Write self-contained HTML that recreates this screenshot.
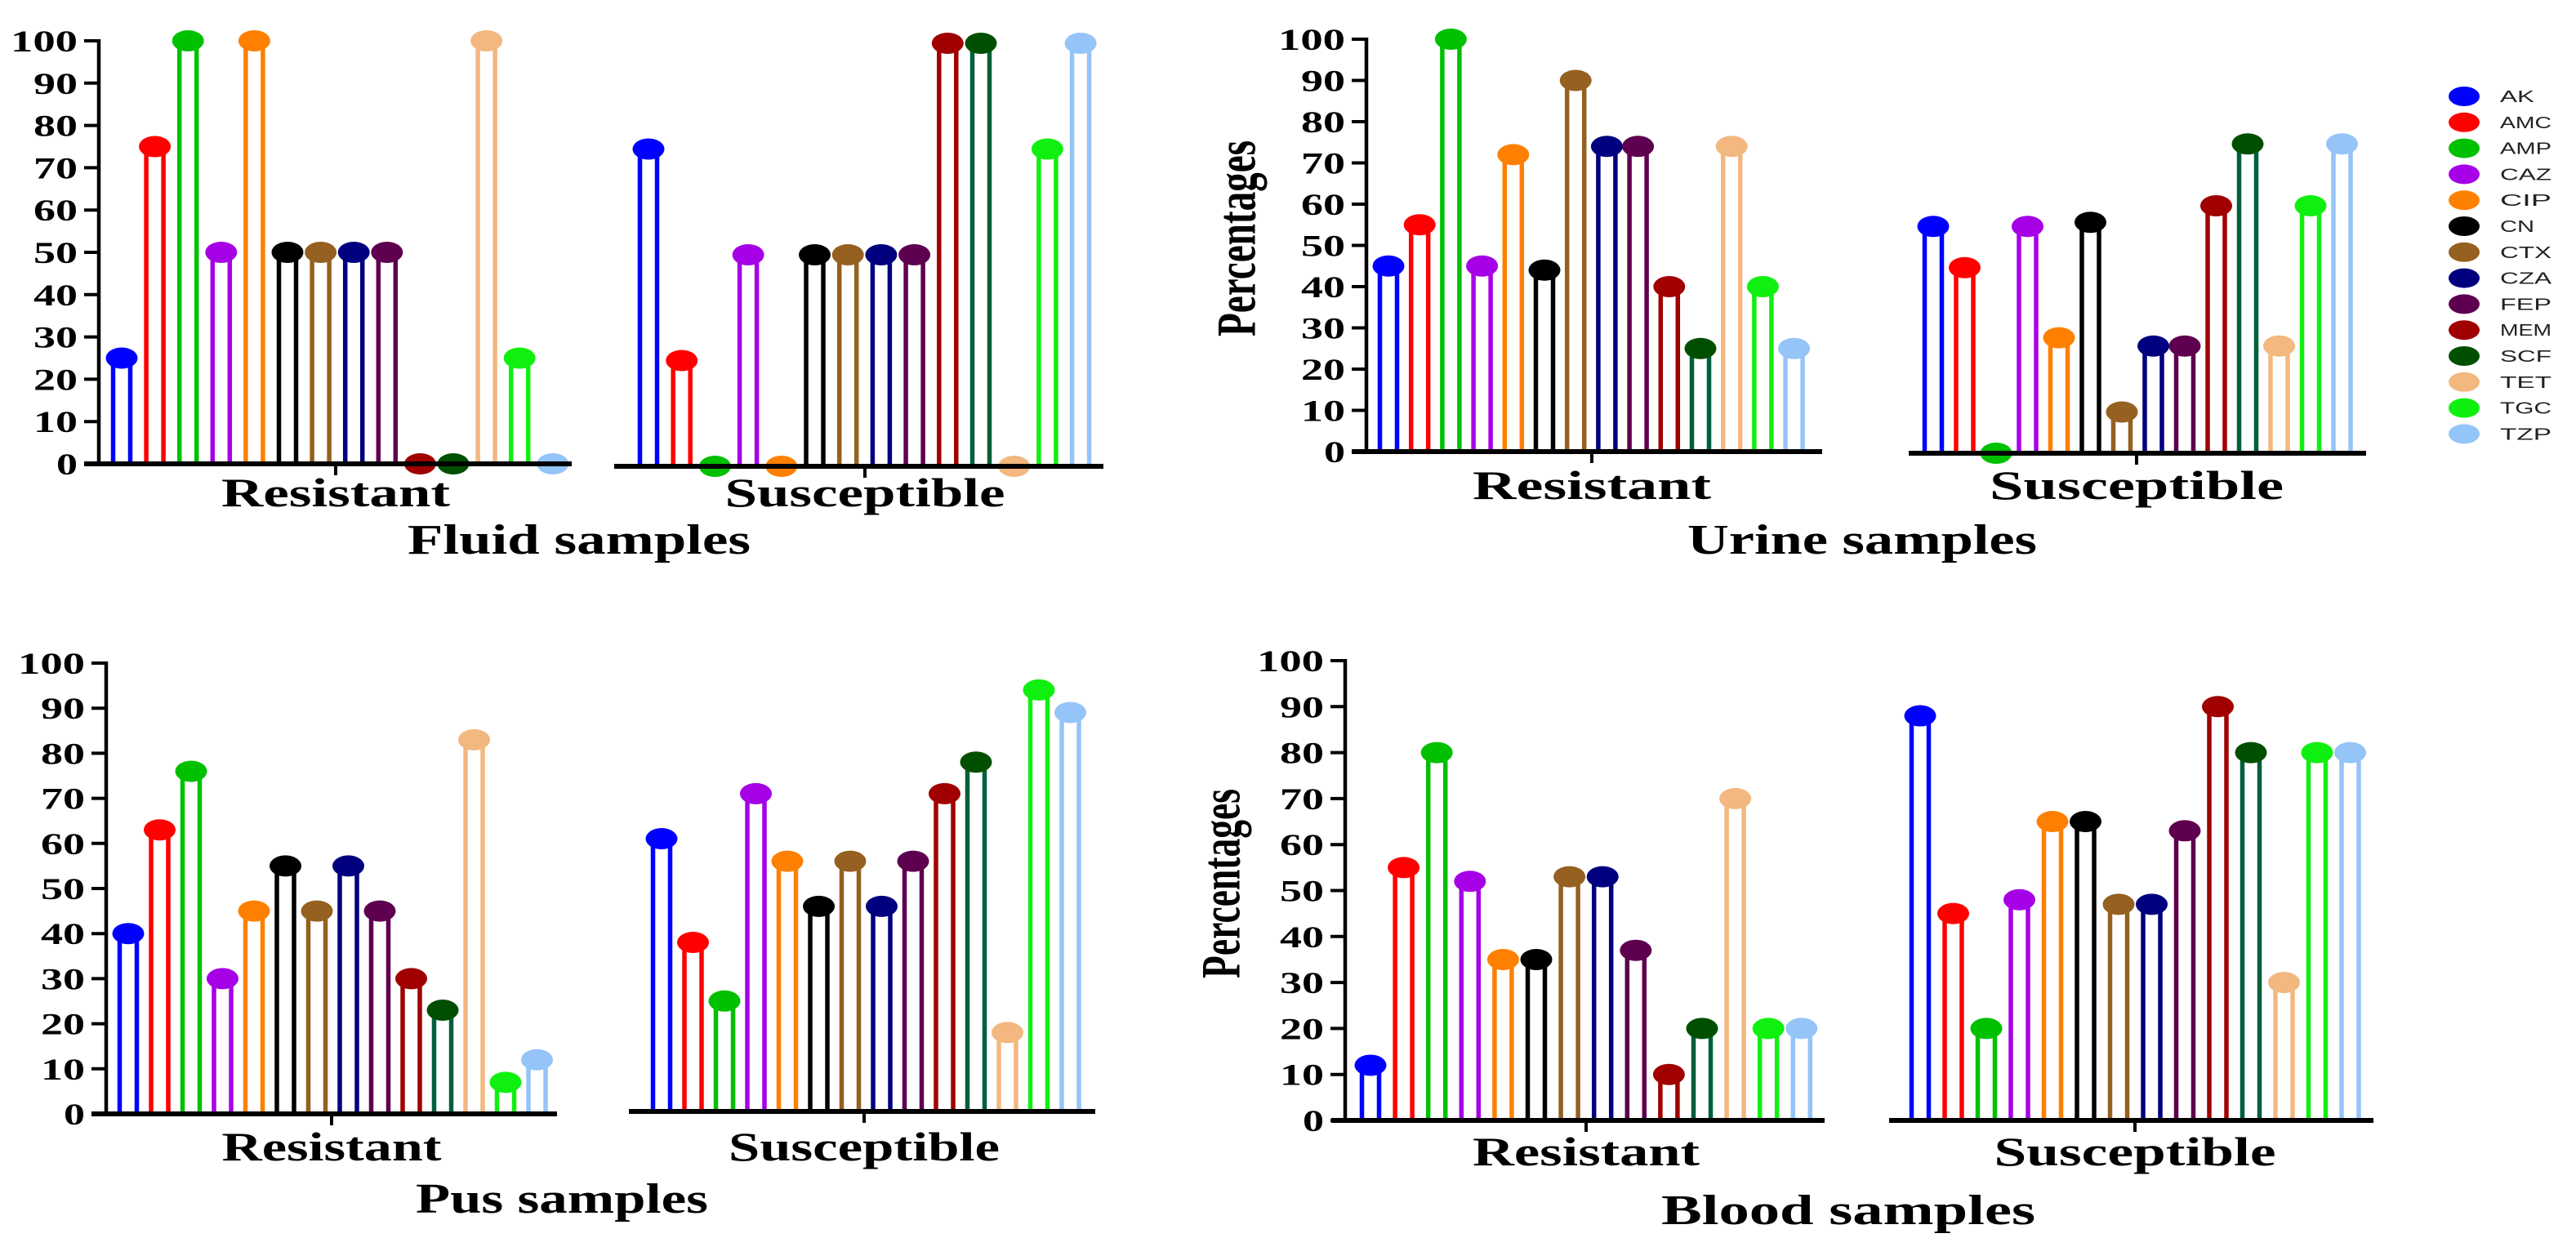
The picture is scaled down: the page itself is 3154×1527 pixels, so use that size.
<!DOCTYPE html>
<html><head><meta charset="utf-8">
<style>
html,body{margin:0;padding:0;background:#fff;}
svg{display:block;}
text{font-family:"Liberation Serif",serif;font-weight:bold;fill:#000;}
.leg{font-family:"Liberation Sans",sans-serif;font-weight:normal;fill:#222;}
</style></head>
<body>
<svg id="chart" width="3154" height="1527" viewBox="0 0 3154 1527" xmlns="http://www.w3.org/2000/svg"></svg>
<script>
const drugs = ["AK","AMC","AMP","CAZ","CIP","CN","CTX","CZA","FEP","MEM","SCF","TET","TGC","TZP"];
const colors = ["#0000ff","#ff0000","#00c000","#a600e6","#ff8000","#000000","#956020","#00007f","#5e004f","#a00000","#00603a","#f2b880","#10f010","#94c4f8"];
const dotColors = ["#0000ff","#ff0000","#00c000","#a600e6","#ff8000","#000000","#956020","#00007f","#5e004f","#a00000","#004f00","#f2b880","#10f010","#94c4f8"];
const yTicks = [0,10,20,30,40,50,60,70,80,90,100];
const groups = ["Resistant","Susceptible"];

const fluidResistant = [25,75,100,50,100,50,50,50,50,0,0,100,25,0];
const fluidSusceptible = [75,25,0,50,0,50,50,50,50,100,100,0,75,100];
const urineResistant = [45,55,100,45,72,44,90,74,74,40,25,74,40,25];
const urineSusceptible = [55,45,0,55,28,56,10,26,26,60,75,26,60,75];
const pusResistant = [40,63,76,30,45,55,45,55,45,30,23,83,7,12];
const pusSusceptible = [60.5,37.5,24.5,70.5,55.5,45.5,55.5,45.5,55.5,70.5,77.5,17.5,93.5,88.5];
const bloodResistant = [12,55,80,52,35,35,53,53,37,10,20,70,20,20];
const bloodSusceptible = [88,45,20,48,65,65,47,47,63,90,80,30,80,80];

const NS = "http://www.w3.org/2000/svg";
const svg = document.getElementById("chart");
function mk(tag, attrs, parent){
  const e = document.createElementNS(NS, tag);
  for (const k in attrs) e.setAttribute(k, attrs[k]);
  (parent||svg).appendChild(e);
  return e;
}

const panels = [
  {key:"fluid", title:"Fluid samples", R:fluidResistant, S:fluidSusceptible,
   ax:121, y0:568, y100:50, L:[103,700], tL:411, Rr:[752,1351], tR:1059, yOffR:3,
   bxL:149, dxL:40.6, bxR:794, dxR:40.7, labY:620, labW:[280,343], titleX:709, titleY:678, titleW:420, perc:null},
  {key:"urine", title:"Urine samples", R:urineResistant, S:urineSusceptible,
   ax:1673, y0:553, y100:48, L:[1655,2231], tL:1949, Rr:[2337,2897], tR:2616, yOffR:2,
   bxL:1700, dxL:38.2, bxR:2367, dxR:38.5, labY:611, labW:[292,360], titleX:2280, titleY:678, titleW:428, perc:[1515,292,240]},
  {key:"pus", title:"Pus samples", R:pusResistant, S:pusSusceptible,
   ax:130, y0:1364, y100:812, L:[112,682], tL:406, Rr:[770,1341], tR:1058, yOffR:-3,
   bxL:157, dxL:38.5, bxR:810, dxR:38.5, labY:1421, labW:[269,332], titleX:688, titleY:1485, titleW:358, perc:null},
  {key:"blood", title:"Blood samples", R:bloodResistant, S:bloodSusceptible,
   ax:1647, y0:1372, y100:809, L:[1630,2234], tL:1942, Rr:[2313,2906], tR:2614, yOffR:0,
   bxL:1678, dxL:40.6, bxR:2351, dxR:40.5, labY:1427, labW:[278,345], titleX:2263, titleY:1499, titleW:458, perc:[1496,1082,232]}
];

panels.forEach(p => {
  const g = mk("g", {});
  
  
  const yScale = (v, off) => p.y0 + off - (v/100)*(p.y0 - p.y100);

  [[p.R, p.bxL, p.dxL, 0, "resistant"], [p.S, p.bxR, p.dxR, p.yOffR, "susceptible"]].forEach(([vals, bx, dx, off, gname]) => {
    vals.forEach((v, i) => {
      const x = bx + i*dx;
      const y = yScale(v, off);
      const base = p.y0 + off;
      const bg = mk("g", {}, g);
      
      
      if (v > 0) {
        mk("line", {x1:x-10.5, x2:x-10.5, y1:base, y2:y, stroke:colors[i], "stroke-width":5.5}, bg);
        mk("line", {x1:x+10.5, x2:x+10.5, y1:base, y2:y, stroke:colors[i], "stroke-width":5.5}, bg);
      }
      mk("ellipse", {cx:x, cy:y, rx:19.5, ry:13, fill:dotColors[i]}, bg);
    });
  });

  const yAxis = mk("line", {x1:p.ax, x2:p.ax, y1:p.y100-2, y2:p.y0+2, stroke:"#000","stroke-width":4.5}, g);
  
  
  yTicks.forEach(t => {
    const y = yScale(t, 0);
    mk("line", {x1:p.ax-18, x2:p.ax, y1:y, y2:y, stroke:"#000","stroke-width":4}, g);
    const s = String(t);
    const tl = mk("text", {x:p.ax-26, y:y+13, "text-anchor":"end", "font-size":37,
      textLength: s.length===3?82:(s.length===2?54:26), lengthAdjust:"spacingAndGlyphs"}, g);
    tl.textContent = s;
    
    
  });
  const xl = mk("line", {x1:p.L[0], x2:p.L[1], y1:p.y0, y2:p.y0, stroke:"#000","stroke-width":6}, g);
  
  
  mk("line", {x1:p.tL, x2:p.tL, y1:p.y0, y2:p.y0+14, stroke:"#000","stroke-width":4}, g);
  const xr = mk("line", {x1:p.Rr[0], x2:p.Rr[1], y1:p.y0+p.yOffR, y2:p.y0+p.yOffR, stroke:"#000","stroke-width":6}, g);
  
  
  mk("line", {x1:p.tR, x2:p.tR, y1:p.y0+p.yOffR, y2:p.y0+p.yOffR+14, stroke:"#000","stroke-width":4}, g);

  [[p.tL, 0],[p.tR, 1]].forEach(([cx, k]) => {
    const t = mk("text", {x:cx, y:p.labY, "text-anchor":"middle", "font-size":50, textLength:p.labW[k], lengthAdjust:"spacingAndGlyphs"}, g);
    t.textContent = groups[k];
    
    
  });
  const tt = mk("text", {x:p.titleX, y:p.titleY, "text-anchor":"middle", "font-size":52, textLength:p.titleW, lengthAdjust:"spacingAndGlyphs"}, g);
  tt.textContent = p.title;
  
  

  if (p.perc) {
    const pg = mk("g", {transform:"translate(" + p.perc[0] + "," + p.perc[1] + ") scale(1.35,1) rotate(-90)"}, g);
    const pt = mk("text", {x:0, y:16, "text-anchor":"middle", "font-size":50, textLength:p.perc[2], lengthAdjust:"spacingAndGlyphs"}, pg);
    pt.textContent = "Percentages";
    
    
  }
});

const lg = mk("g", {});


drugs.forEach((d, i) => {
  const y = 118 + i*31.8;
  const eg = mk("g", {}, lg);
  
  
  mk("ellipse", {cx:3017, cy:y, rx:19, ry:12, fill:dotColors[i]}, eg);
  const t = mk("text", {x:3061, y:y+7, "class":"leg", "font-size":20, textLength:d.length*21, lengthAdjust:"spacingAndGlyphs"}, eg);
  t.textContent = d;
});
</script>
</body></html>
